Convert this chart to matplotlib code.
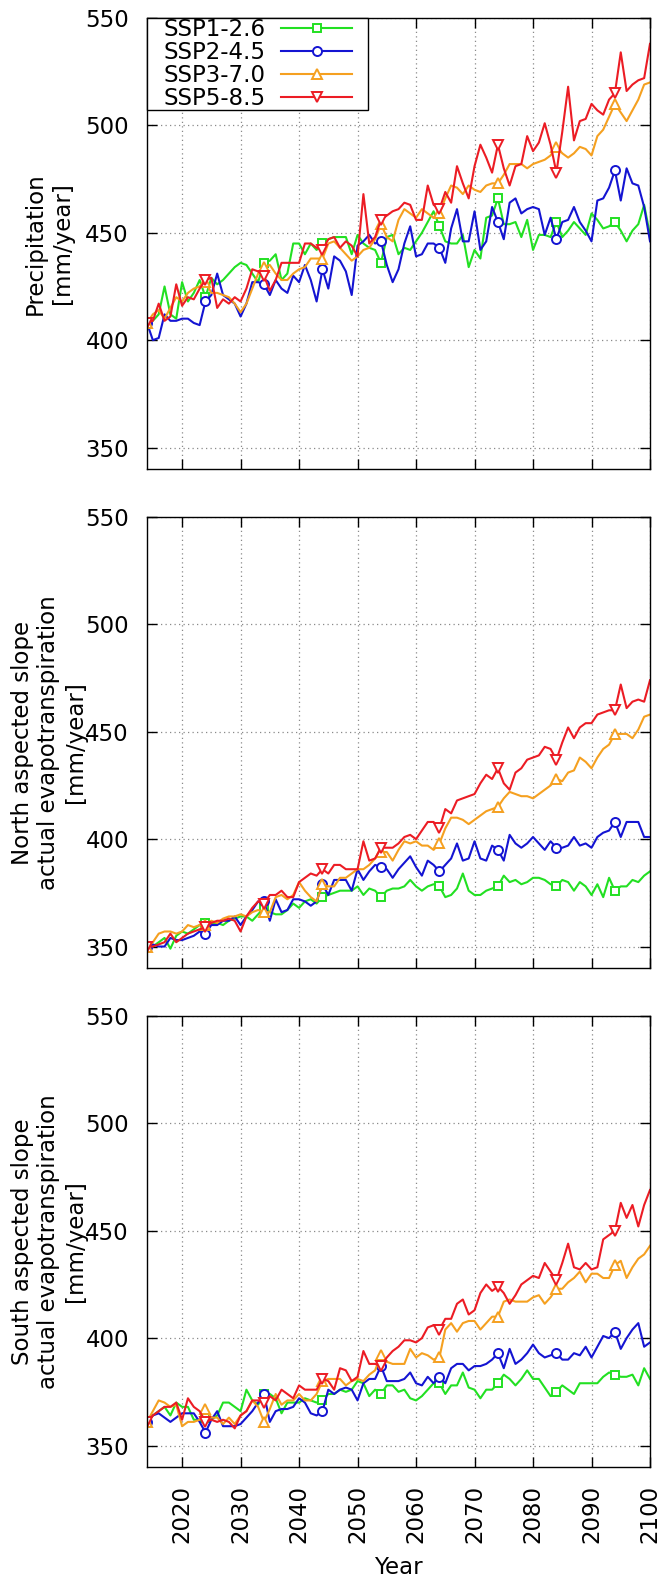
import numpy as np
import matplotlib
matplotlib.use("Agg")
import matplotlib.pyplot as plt
from matplotlib.path import Path

years = list(range(2014, 2101))

series_names = ["SSP1-2.6", "SSP2-4.5", "SSP3-7.0", "SSP5-8.5"]

# Panel 1: precipitation [mm/year]
precip_ssp126 = [408, 409, 412, 425, 412, 410, 427, 418, 422, 428,
                 420, 429, 426, 428, 431, 434, 436, 435, 431, 427,
                 436, 437, 440, 428, 431, 445, 445, 440, 445, 442,
                 445, 447, 448, 448, 448, 440, 449, 445, 443, 442,
                 436, 448, 449, 440, 443, 442, 446, 450, 455, 460,
                 453, 446, 445, 445, 449, 434, 442, 438, 457, 458,
                 466, 454, 454, 455, 448, 456, 442, 449, 449, 448,
                 455, 448, 451, 455, 452, 449, 459, 456, 452, 453,
                 455, 451, 446, 451, 454, 463, 449]
precip_ssp245 = [408, 400, 401, 412, 409, 409, 410, 410, 408, 407,
                 418, 421, 431, 421, 419, 417, 411, 417, 427, 427,
                 426, 421, 428, 424, 422, 430, 427, 435, 428, 418,
                 433, 424, 439, 437, 432, 421, 444, 446, 449, 445,
                 446, 435, 427, 433, 445, 453, 439, 440, 445, 445,
                 443, 436, 452, 461, 446, 446, 460, 442, 446, 462,
                 455, 447, 464, 466, 459, 461, 462, 461, 449, 457,
                 447, 455, 456, 462, 455, 451, 446, 465, 466, 471,
                 479, 465, 480, 473, 472, 462, 446]
precip_ssp370 = [408, 412, 414, 410, 415, 420, 418, 422, 424, 425,
                 427, 422, 422, 421, 420, 417, 413, 417, 424, 431,
                 434, 435, 431, 428, 428, 431, 433, 434, 438, 438,
                 438, 445, 446, 443, 440, 437, 439, 442, 443, 447,
                 454, 448, 446, 456, 461, 459, 457, 461, 459, 457,
                 459, 466, 472, 471, 468, 472, 470, 469, 472, 473,
                 473, 477, 482, 482, 482, 480, 482, 483, 484, 486,
                 490, 487, 485, 487, 490, 489, 486, 495, 498, 504,
                 510, 506, 502, 507, 512, 519, 520]
precip_ssp585 = [408, 409, 417, 409, 411, 426, 416, 420, 419, 424,
                 428, 429, 415, 419, 417, 420, 418, 424, 433, 432,
                 430, 423, 428, 436, 436, 436, 436, 445, 445, 443,
                 442, 447, 448, 443, 446, 444, 439, 468, 445, 448,
                 456, 458, 460, 461, 464, 463, 456, 456, 472, 463,
                 461, 469, 464, 481, 473, 466, 481, 491, 485, 478,
                 491, 480, 472, 481, 482, 495, 488, 492, 501, 491,
                 478, 497, 518, 493, 502, 503, 510, 507, 505, 512,
                 515, 534, 516, 519, 521, 522, 538]

# Panel 2: north aspected slope actual evapotranspiration [mm/year]
north_ssp126 = [350, 350, 352, 354, 349, 355, 357, 356, 358, 360,
                361, 361, 361, 360, 362, 363, 364, 364, 362, 365,
                368, 366, 365, 365, 367, 370, 368, 371, 372, 370,
                373, 374, 375, 376, 376, 376, 378, 374, 377, 376,
                373, 376, 377, 377, 378, 381, 378, 376, 378, 379,
                378, 373, 374, 377, 384, 376, 374, 374, 376, 377,
                378, 383, 380, 381, 379, 380, 382, 382, 381, 379,
                378, 381, 380, 376, 380, 378, 374, 379, 373, 382,
                376, 378, 378, 381, 380, 383, 385]
north_ssp245 = [350, 351, 350, 350, 354, 353, 353, 354, 355, 357,
                356, 360, 360, 362, 362, 364, 360, 364, 367, 371,
                371, 362, 372, 366, 367, 372, 372, 371, 369, 371,
                379, 374, 381, 381, 381, 376, 386, 381, 385, 388,
                387, 386, 382, 386, 389, 392, 387, 383, 390, 388,
                385, 388, 391, 398, 390, 391, 399, 391, 390, 397,
                395, 390, 402, 398, 396, 398, 401, 398, 395, 399,
                396, 396, 397, 401, 397, 398, 396, 401, 403, 404,
                408, 401, 408, 408, 408, 401, 401]
north_ssp370 = [350, 352, 356, 357, 357, 356, 357, 360, 359, 360,
                360, 362, 361, 363, 364, 364, 365, 364, 366, 367,
                366, 366, 373, 374, 372, 374, 380, 376, 373, 371,
                379, 378, 378, 382, 382, 384, 386, 386, 388, 391,
                394, 394, 390, 395, 399, 398, 399, 397, 397, 395,
                398, 405, 410, 410, 409, 407, 409, 411, 413, 414,
                415, 419, 422, 421, 420, 420, 419, 421, 423, 425,
                428, 427, 431, 432, 438, 436, 433, 438, 442, 444,
                449, 449, 449, 447, 451, 457, 458]
north_ssp585 = [350, 350, 351, 352, 356, 352, 354, 356, 357, 358,
                359, 361, 362, 362, 363, 362, 357, 364, 368, 371,
                370, 374, 374, 376, 373, 373, 380, 382, 384, 383,
                386, 384, 388, 388, 386, 386, 386, 399, 390, 391,
                396, 396, 396, 398, 401, 402, 400, 404, 408, 408,
                405, 414, 412, 418, 419, 420, 421, 426, 430, 428,
                433, 426, 423, 431, 433, 437, 438, 439, 443, 442,
                437, 445, 452, 447, 452, 454, 454, 458, 459, 460,
                460, 472, 461, 464, 465, 464, 474]

# Panel 3: south aspected slope actual evapotranspiration [mm/year]
south_ssp126 = [361, 364, 366, 368, 364, 370, 368, 368, 362, 362,
                363, 362, 364, 370, 370, 368, 366, 376, 371, 369,
                374, 374, 372, 365, 370, 370, 370, 372, 371, 370,
                371, 374, 374, 376, 375, 376, 380, 379, 373, 376,
                374, 378, 378, 375, 376, 372, 371, 373, 376, 379,
                379, 374, 378, 378, 384, 377, 376, 372, 376, 376,
                379, 383, 381, 378, 381, 385, 381, 381, 377, 373,
                375, 378, 376, 374, 379, 379, 379, 379, 382, 384,
                383, 382, 382, 383, 378, 386, 381]
south_ssp245 = [361, 364, 365, 363, 361, 363, 365, 365, 365, 361,
                356, 362, 366, 359, 359, 359, 360, 363, 366, 370,
                374, 361, 366, 367, 367, 368, 372, 370, 365, 364,
                366, 376, 374, 376, 377, 376, 371, 379, 381, 381,
                387, 380, 380, 380, 381, 384, 379, 378, 382, 379,
                382, 379, 386, 388, 388, 385, 387, 387, 388, 390,
                393, 386, 395, 388, 390, 393, 397, 393, 391, 392,
                393, 390, 390, 393, 392, 396, 391, 396, 401, 400,
                403, 395, 400, 404, 407, 396, 398]
south_ssp370 = [361, 366, 371, 370, 368, 369, 359, 361, 361, 362,
                367, 363, 363, 360, 363, 360, 364, 366, 371, 368,
                361, 367, 374, 369, 371, 371, 374, 371, 371, 374,
                380, 381, 381, 381, 378, 380, 381, 380, 383, 385,
                392, 389, 388, 388, 388, 395, 391, 393, 392, 390,
                391, 404, 407, 403, 407, 408, 408, 404, 407, 410,
                410, 417, 418, 417, 417, 417, 419, 420, 416, 419,
                423, 423, 426, 428, 431, 426, 430, 430, 428, 428,
                434, 436, 428, 433, 437, 439, 443]
south_ssp585 = [361, 364, 366, 368, 368, 370, 362, 372, 368, 366,
                361, 362, 361, 362, 361, 358, 364, 366, 371, 371,
                370, 373, 371, 376, 374, 372, 378, 376, 376, 376,
                381, 380, 376, 386, 385, 380, 382, 394, 388, 388,
                387, 391, 394, 396, 399, 399, 398, 400, 405, 406,
                404, 409, 409, 416, 418, 411, 413, 421, 425, 422,
                424, 421, 416, 420, 425, 427, 429, 428, 435, 431,
                427, 435, 444, 433, 432, 435, 432, 433, 446, 448,
                450, 463, 456, 462, 452, 462, 469]

panel_labels = ["Precipitation\n[mm/year]",
                "North aspected slope\nactual evapotranspiration\n[mm/year]",
                "South aspected slope\nactual evapotranspiration\n[mm/year]"]
panel_data = [[precip_ssp126, precip_ssp245, precip_ssp370, precip_ssp585],
              [north_ssp126, north_ssp245, north_ssp370, north_ssp585],
              [south_ssp126, south_ssp245, south_ssp370, south_ssp585]]

xticks = list(range(2020, 2101, 10))
yticks = [350, 400, 450, 500, 550]

colors = ["#22e022", "#1414d2", "#f5a020", "#ec1c24"]
markers = ["s", "o", "^", "v"]
msizes = [6.3, 6.5, 7.0, 7.0]

FS = 16.5
plt.rcParams['font.family'] = ['DejaVu Sans']

W, H = 662, 1582
fig = plt.figure(figsize=(W / 100, H / 100), dpi=100)

# axes boxes in pixels (left, top, right, bottom)
boxes = [(147, 18, 650, 469), (147, 517, 650, 968), (147, 1016, 650, 1467)]


def xpad_box(padx_em):
    def box(x0, y0, width, height, mutation_size):
        px = padx_em * mutation_size
        xa, xb = x0 - px, x0 + width + px
        return Path([(xa, y0), (xb, y0), (xb, y0 + height), (xa, y0 + height), (xa, y0)],
                    closed=True)
    return box


for i, (ylabel, data, (l, t, r, b)) in enumerate(zip(panel_labels, panel_data, boxes)):
    ax = fig.add_axes([l / W, 1 - b / H, (r - l) / W, (b - t) / H])
    for vals, c, m, msz, name in zip(data, colors, markers, msizes, series_names):
        ax.plot(years, vals, color=c, lw=1.5, marker=m, markevery=10, ms=msz,
                mfc="white", mec=c, mew=1.4, label=name)
    ax.set_xlim(2014, 2100)
    ax.set_ylim(340, 550)
    ax.set_xticks(xticks)
    ax.set_yticks(yticks)
    ax.grid(True, color="#8a8a8a", linestyle=(0, (1, 2.6)), lw=0.9)
    ax.set_axisbelow(True)
    ax.tick_params(direction="in", length=7, width=1, top=True, right=True,
                   labelsize=FS, pad=13)
    for s in ax.spines.values():
        s.set_linewidth(1.0)
        s.set_color("black")
    ax.set_ylabel(ylabel, fontsize=FS, linespacing=1.2, va="center")
    ax.yaxis.set_label_coords((49 - l) / (r - l), 0.5)
    if i < 2:
        ax.set_xticklabels([])
    else:
        ax.tick_params(axis="x", labelrotation=90)
        ax.set_xlabel("Year", fontsize=FS, labelpad=9)
    if i == 0:
        padx = 0.7
        fs_px = FS * 100 / 72.0
        leg = ax.legend(loc="upper left", bbox_to_anchor=(padx * fs_px / (r - l), 1.0),
                        fontsize=FS, markerfirst=False, fancybox=False,
                        edgecolor="black", framealpha=1, borderaxespad=0,
                        handlelength=3.1, handletextpad=0.7, labelspacing=0.0,
                        borderpad=0.0)
        fr = leg.get_frame()
        fr.set_linewidth(1.0)
        fr.set_boxstyle(xpad_box(padx))

fig.savefig("out.png", dpi=100)
